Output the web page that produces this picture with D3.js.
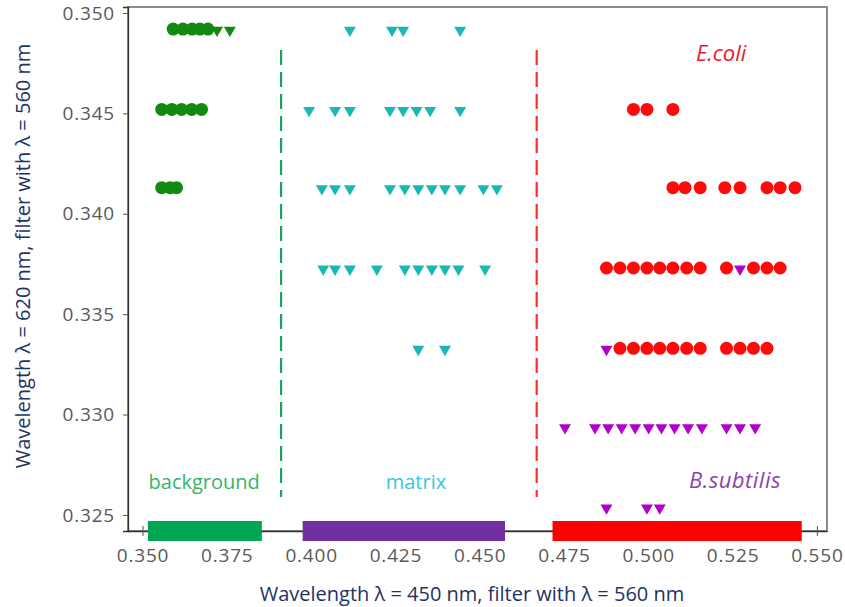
<!DOCTYPE html>
<html>
<head>
<meta charset="utf-8">
<script src="https://cdn.jsdelivr.net/npm/d3@7"></script>
<style>
body { margin:0; background:#fff; }
text { font-family: "Open Sans", Lato, sans-serif; }
</style>
</head>
<body>
<div id="chart"></div>
<script>
// row levels (y values of the measurement grid)
var rowY = [0.3492, 0.3452, 0.3413, 0.3373, 0.3333, 0.3294, 0.3254];

// x values per row, index = row in rowY
var backgroundCircles = [
  [0.3591, 0.3620, 0.3647, 0.3670, 0.3694],
  [0.3557, 0.3587, 0.3616, 0.3646, 0.3675],
  [0.3557, 0.3582, 0.3601]
];
var backgroundTriangles = [
  [0.3721, 0.3759]
];
var matrixTriangles = [
  [0.4115, 0.4240, 0.4273, 0.4442],
  [0.3994, 0.4071, 0.4115, 0.4234, 0.4273, 0.4313, 0.4353, 0.4442],
  [0.4032, 0.4071, 0.4115, 0.4234, 0.4278, 0.4318, 0.4358, 0.4397, 0.4442, 0.4511, 0.4551],
  [0.4036, 0.4071, 0.4115, 0.4195, 0.4278, 0.4318, 0.4358, 0.4397, 0.4437, 0.4516],
  [0.4318, 0.4397]
];
var ecoliCircles = [
  [],
  [0.4956, 0.4996, 0.5073],
  [0.5073, 0.5109, 0.5154, 0.5227, 0.5272, 0.5352, 0.5391, 0.5435],
  [0.4876, 0.4916, 0.4956, 0.4996, 0.5034, 0.5073, 0.5114, 0.5154, 0.5232, 0.5312, 0.5352, 0.5391],
  [0.4916, 0.4956, 0.4996, 0.5034, 0.5073, 0.5114, 0.5154, 0.5232, 0.5272, 0.5312, 0.5352]
];
var bsubtilisTriangles = [
  [], [], [],
  [0.5272],
  [0.4876],
  [0.4753, 0.4842, 0.4881, 0.4921, 0.4961, 0.5001, 0.5039, 0.5078, 0.5118, 0.5159, 0.5232, 0.5272, 0.5317],
  [0.4876, 0.4996, 0.5034]
];

var bandNames = ["background", "matrix", "bacteria"];
var bandStart = [0.3516, 0.3975, 0.4716];
var bandEnd   = [0.3854, 0.4575, 0.5455];
var dividerX  = [0.3911, 0.4669];

var xTicks = [0.350, 0.375, 0.400, 0.425, 0.450, 0.475, 0.500, 0.525, 0.550];
var yTicks = [0.325, 0.330, 0.335, 0.340, 0.345, 0.350];

function flatten(rows) {
  var out = [];
  rows.forEach(function(r, i) { r.forEach(function(v) { out.push({x: v, y: rowY[i]}); }); });
  return out;
}

var W = 845, H = 607,
    margin = {top: 7, right: 18, bottom: 76, left: 128},
    width = W - margin.left - margin.right,
    height = H - margin.top - margin.bottom;

var svg = d3.select("#chart").append("svg").attr("width", W).attr("height", H);
var g = svg.append("g").attr("transform", "translate(" + margin.left + "," + margin.top + ")");

var x = d3.scaleLinear().domain([0.3457, 0.5530]).range([0, width]);
var y = d3.scaleLinear().domain([0.32420, 0.35030]).range([height, 0]);

// frame
g.append("rect").attr("width", width).attr("height", height)
  .attr("fill", "none").attr("stroke", "#8c8c8c").attr("stroke-width", 2);

// y axis
var yAxis = g.append("g").call(d3.axisLeft(y).tickValues(yTicks).tickFormat(d3.format(".3f")).tickSize(5).tickPadding(8));
yAxis.select(".domain").attr("stroke", "#333").attr("stroke-width", 1.3);
yAxis.selectAll(".tick line").attr("stroke", "#555");
yAxis.selectAll("text").attr("fill", "#595959").style("font-size", "19px").style("letter-spacing", "0.8px");

// x axis
var xAxis = g.append("g").attr("transform", "translate(0," + height + ")")
  .call(d3.axisBottom(x).tickValues(xTicks).tickFormat(d3.format(".3f")).tickSizeInner(5).tickSizeOuter(0).tickPadding(13));
xAxis.select(".domain").attr("stroke", "#333").attr("stroke-width", 1.3);
xAxis.selectAll(".tick line").attr("stroke", "#555").attr("y1", -5);
xAxis.selectAll("text").attr("fill", "#595959").style("font-size", "19px").style("letter-spacing", "0.8px");

// bands on the x axis
var bandColor = d3.scaleOrdinal().domain(bandNames).range(["#00a651", "#7030a0", "#ff0000"]);
g.selectAll(".band").data(bandNames).enter().append("rect")
  .attr("class", "band")
  .attr("x", function(d, i) { return x(bandStart[i]); })
  .attr("width", function(d, i) { return x(bandEnd[i]) - x(bandStart[i]); })
  .attr("y", height - 10).attr("height", 20)
  .attr("fill", function(d) { return bandColor(d); });

// dividers
var divColor = ["#1aa35f", "#ff2a2a"];
g.selectAll(".divider").data(dividerX).enter().append("line")
  .attr("x1", function(d) { return x(d); }).attr("x2", function(d) { return x(d); })
  .attr("y1", 43).attr("y2", 490)
  .attr("stroke", function(d, i) { return divColor[i]; })
  .attr("stroke-width", 2.2)
  .attr("stroke-dasharray", "15,7");

// markers
var tri = d3.symbol().type(d3.symbolTriangle).size(62);

function circles(rows, color) {
  g.append("g").selectAll("circle").data(flatten(rows)).enter().append("circle")
    .attr("cx", function(d) { return x(d.x); })
    .attr("cy", function(d) { return y(d.y); })
    .attr("r", 6.5).attr("fill", color);
}
function triangles(rows, color) {
  g.append("g").selectAll("path").data(flatten(rows)).enter().append("path")
    .attr("d", tri)
    .attr("transform", function(d) { return "translate(" + x(d.x) + "," + (y(d.y) + 1) + ") rotate(180)"; })
    .attr("fill", color);
}

circles(backgroundCircles, "#128a12");
triangles(backgroundTriangles, "#128a12");
triangles(matrixTriangles, "#1ab8b4");
circles(ecoliCircles, "#ff0a0a");
triangles(bsubtilisTriangles, "#b000c8");

// region labels
g.append("text").attr("x", x(0.3683)).attr("y", 482).attr("text-anchor", "middle")
  .attr("fill", "#34b36a").style("font-size", "20px").text("background");
g.append("text").attr("x", x(0.4311)).attr("y", 482).attr("text-anchor", "middle")
  .attr("fill", "#3ec3dc").style("font-size", "20px").text("matrix");
g.append("text").attr("x", x(0.5216)).attr("y", 54).attr("text-anchor", "middle")
  .attr("fill", "#e8202a").style("font-size", "22px").style("font-style", "italic").text("E.coli");
g.append("text").attr("x", x(0.5257)).attr("y", 481).attr("text-anchor", "middle")
  .attr("fill", "#8a3fb5").style("font-size", "22px").style("font-style", "italic")
  .style("letter-spacing", "0.5px").text("B.subtilis");

// axis titles
svg.append("text").attr("x", 472).attr("y", 601).attr("text-anchor", "middle")
  .attr("fill", "#1f3264").style("font-size", "20px")
  .text("Wavelength \u03bb = 450 nm, filter with \u03bb = 560 nm");
svg.append("text").attr("transform", "translate(30,256) rotate(-90)").attr("text-anchor", "middle")
  .attr("fill", "#1f3264").style("font-size", "20px")
  .text("Wavelength \u03bb = 620 nm,  filter with \u03bb = 560 nm");
</script>
</body>
</html>
